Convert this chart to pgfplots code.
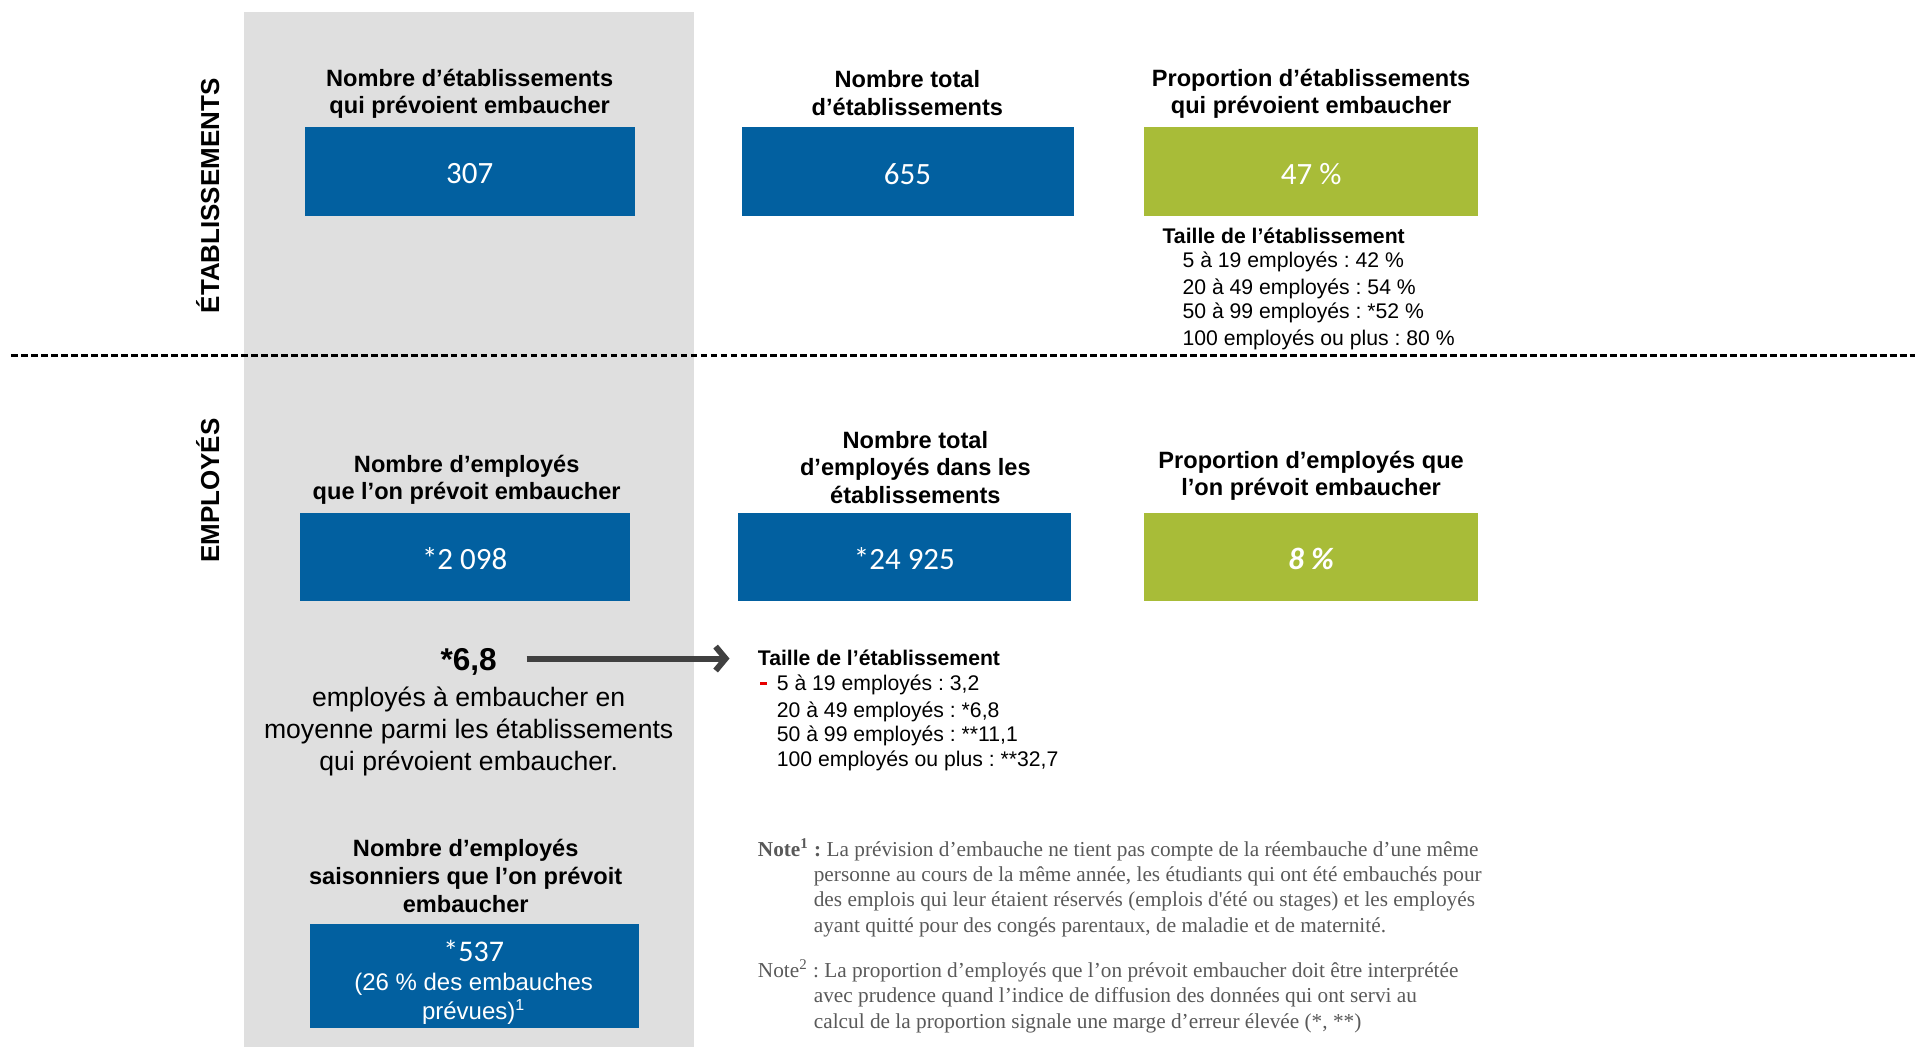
\documentclass[border=0pt]{standalone}
\usepackage{fontspec}
\setmainfont{Liberation Sans}
\newfontfamily\valfont{Carlito}
\newfontfamily\notefont{Liberation Serif}
\usepackage{xcolor}
\usepackage{pgfplots}
\pgfplotsset{compat=1.18}
\usetikzlibrary{arrows.meta}
\definecolor{boxblue}{RGB}{2,96,160}
\definecolor{boxgreen}{RGB}{168,188,56}
\definecolor{panelgrey}{RGB}{223,223,223}
\definecolor{arrowgrey}{RGB}{64,64,64}
\definecolor{notegrey}{RGB}{89,89,89}
\definecolor{dashred}{RGB}{230,0,0}
\frenchspacing

\begin{document}
\begin{tikzpicture}[
    ttl/.style={font=\fontsize{11.8}{13.8}\selectfont\bfseries, align=center, inner sep=0},
    val/.style={font=\valfont\fontsize{15.5}{18}\selectfont, text=white, inner sep=0},
    sec/.style={font=\fontsize{13}{15}\selectfont\bfseries, rotate=90, inner sep=0},
    item/.style={font=\fontsize{10.6}{12}\selectfont, anchor=west, inner sep=0, text height=0.75em, text depth=0.25em},
    note/.style={font=\notefont\fontsize{10.65}{12}\selectfont, text=notegrey, anchor=west, inner sep=0, text height=0.75em, text depth=0.25em}
]
\begin{axis}[
    width=958pt, height=524pt, scale only axis,
    xmin=0, xmax=1916, ymin=0, ymax=1048,
    y dir=reverse, axis lines=none, clip=false,
    enlargelimits=false
]
\path (axis cs:0,0) rectangle (axis cs:1916,1048);

% grey column
\addplot[draw=none, fill=panelgrey] coordinates {(244,12)(694,12)(694,1048)(244,1048)};
% separator
\addplot[black, line width=1.3pt, dash pattern=on 3.4pt off 1.6pt] coordinates {(11,356)(1916,356)};

% boxes
\addplot[draw=none, fill=boxblue]  coordinates {(305,127)(635,127)(635,216)(305,216)};
\addplot[draw=none, fill=boxblue]  coordinates {(742,127)(1075,127)(1075,216)(742,216)};
\addplot[draw=none, fill=boxgreen] coordinates {(1145,127)(1479,127)(1479,216)(1145,216)};
\addplot[draw=none, fill=boxblue]  coordinates {(300,513)(630,513)(630,601)(300,601)};
\addplot[draw=none, fill=boxblue]  coordinates {(738,513)(1072,513)(1072,601)(738,601)};
\addplot[draw=none, fill=boxgreen] coordinates {(1145,513)(1479,513)(1479,601)(1145,601)};
\addplot[draw=none, fill=boxblue]  coordinates {(310,925)(639,925)(639,1029)(310,1029)};

% section labels
\node[sec] at (axis cs:208,196) {ÉTABLISSEMENTS};
\node[sec] at (axis cs:208,491) {EMPLOYÉS};

% top row
\node[ttl] at (axis cs:470,94) {Nombre d’établissements\\qui prévoient embaucher};
\node[ttl] at (axis cs:908,93) {Nombre total\\d’établissements};
\node[ttl] at (axis cs:1312,94) {Proportion d’établissements\\qui prévoient embaucher};
\node[val] at (axis cs:470,174) {307};
\node[val] at (axis cs:908,174) {655};
\node[val] at (axis cs:1312,174) {47 \%};

\node[item, font=\fontsize{10.6}{12}\selectfont\bfseries] at (axis cs:1163,238.5) {Taille de l’établissement};
\node[item] at (axis cs:1183,262.5) {5 à 19 employés : 42 \%};
\node[item] at (axis cs:1183,289.5) {20 à 49 employés : 54 \%};
\node[item] at (axis cs:1183,313.5) {50 à 99 employés : *52 \%};
\node[item] at (axis cs:1183,340.5) {100 employés ou plus : 80 \%};

% bottom row
\node[ttl] at (axis cs:467,480) {Nombre d’employés\\que l’on prévoit embaucher};
\node[ttl] at (axis cs:916,467.5) {Nombre total\\d’employés dans les\\établissements};
\node[ttl] at (axis cs:1312,476) {Proportion d’employés que\\l’on prévoit embaucher};
\node[val] at (axis cs:465,559) {*2 098};
\node[val] at (axis cs:905,559) {*24 925};
\node[val, font=\valfont\fontsize{15.5}{18}\selectfont\bfseries\itshape] at (axis cs:1312,559) {8 \%};

% average
\node[font=\fontsize{15.8}{18}\selectfont\bfseries, inner sep=0] at (axis cs:469,662.5) {*6,8};
\draw[arrowgrey, line width=3pt, -{Straight Barb[length=5pt,width=12pt]}] (axis cs:527,659) -- (axis cs:730,659);
\node[font=\fontsize{13.3}{16}\selectfont, align=center, inner sep=0] at (axis cs:469,731.5) {employés à embaucher en\\moyenne parmi les établissements\\qui prévoient embaucher.};

\node[item, font=\fontsize{10.6}{12}\selectfont\bfseries] at (axis cs:758,660.5) {Taille de l’établissement};
\draw[dashred, line width=1.1pt] (axis cs:761,684) -- (axis cs:768,684);
\node[item] at (axis cs:777,685.5) {5 à 19 employés : 3,2};
\node[item] at (axis cs:777,712.5) {20 à 49 employés : *6,8};
\node[item] at (axis cs:777,736.5) {50 à 99 employés : **11,1};
\node[item] at (axis cs:777,762.5) {100 employés ou plus : **32,7};

% seasonal
\node[ttl, font=\fontsize{11.8}{14}\selectfont\bfseries] at (axis cs:466,876.5) {Nombre d’employés\\saisonniers que l’on prévoit\\embaucher};
\node[val, font=\valfont\fontsize{15}{18}\selectfont] at (axis cs:474,952) {*537};
\node[text=white, font=\fontsize{12}{14.5}\selectfont, align=center, inner sep=0] at (axis cs:474,999) {(26 \% des embauches\\prévues)\textsuperscript{1}};

% notes
\node[note] at (axis cs:758,852.5) {\textbf{Note\textsuperscript{1} :} La prévision d’embauche ne tient pas compte de la réembauche d’une même};
\node[note] at (axis cs:814,877.5) {personne au cours de la même année, les étudiants qui ont été embauchés pour};
\node[note] at (axis cs:814,902.5) {des emplois qui leur étaient réservés (emplois d'été ou stages) et les employés};
\node[note] at (axis cs:814,928.5) {ayant quitté pour des congés parentaux, de maladie et de maternité.};
\node[note] at (axis cs:758,973.5) {Note\textsuperscript{2} : La proportion d’employés que l’on prévoit embaucher doit être interprétée};
\node[note] at (axis cs:814,998.5) {avec prudence quand l’indice de diffusion des données qui ont servi au};
\node[note] at (axis cs:814,1024.5) {calcul de la proportion signale une marge d’erreur élevée (*, **)};
\end{axis}
\end{tikzpicture}
\end{document}
